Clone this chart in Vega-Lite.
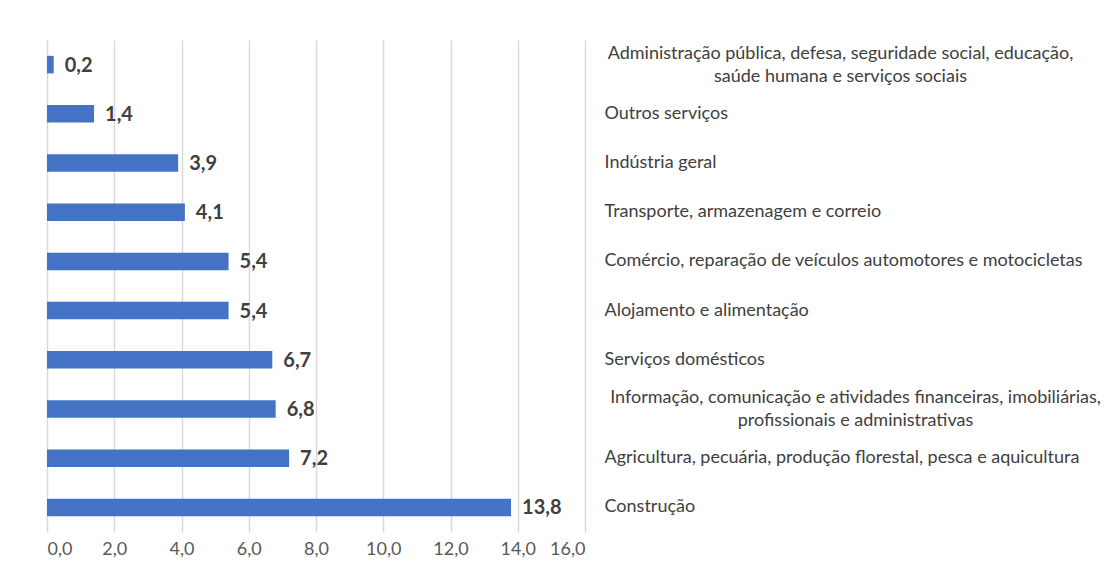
{
  "$schema": "https://vega.github.io/schema/vega-lite/v6.json",
  "width": 538,
  "height": 492,
  "autosize": "none",
  "padding": {"left": 47, "top": 40, "right": 519, "bottom": 42},
  "background": "white",
  "config": {
    "view": {"stroke": null},
    "font": "Lato",
    "locale": {"number": {"decimal": ",", "thousands": ".", "grouping": [3], "currency": ["R$", ""]}}
  },
  "data": {
    "values": [
      {"setor": "Administração pública, defesa, seguridade social, educação,\nsaúde humana e serviços sociais", "valor": 0.2},
      {"setor": "Outros serviços", "valor": 1.4},
      {"setor": "Indústria geral", "valor": 3.9},
      {"setor": "Transporte, armazenagem e correio", "valor": 4.1},
      {"setor": "Comércio, reparação de veículos automotores e motocicletas", "valor": 5.4},
      {"setor": "Alojamento e alimentação", "valor": 5.4},
      {"setor": "Serviços domésticos", "valor": 6.7},
      {"setor": "Informação, comunicação e atividades financeiras, imobiliárias,\nprofissionais e administrativas", "valor": 6.8},
      {"setor": "Agricultura, pecuária, produção florestal, pesca e aquicultura", "valor": 7.2},
      {"setor": "Construção", "valor": 13.8}
    ]
  },
  "encoding": {
    "y": {
      "field": "setor",
      "type": "nominal",
      "sort": null,
      "scale": {"paddingInner": 0.644, "paddingOuter": 0.322},
      "axis": {
        "orient": "right",
        "title": null,
        "domain": false,
        "ticks": false,
        "grid": false,
        "labelExpr": "split(datum.value, '\\n')",
        "labelFont": "Lato",
        "labelFontSize": 18,
        "labelColor": "#404040",
        "labelLineHeight": 23,
        "labelLimit": 700,
        "labelAlign": {"condition": {"test": "indexof(datum.value, '\\n') >= 0", "value": "center"}, "value": "left"},
        "labelOffset": {"condition": {"test": "indexof(datum.value, '\\n') >= 0", "value": -11}, "value": 0},
        "labelPadding": {"condition": [
          {"test": "indexof(datum.value, 'Administra') == 0", "value": 255},
          {"test": "indexof(datum.value, 'Informa') == 0", "value": 270}
        ], "value": 19}
      }
    },
    "x": {
      "field": "valor",
      "type": "quantitative",
      "scale": {"domain": [0, 16], "nice": false},
      "axis": {
        "title": null,
        "values": [0, 2, 4, 6, 8, 10, 12, 14, 16],
        "format": ".1f",
        "domain": false,
        "ticks": false,
        "grid": true,
        "gridColor": "#D9D9D9",
        "gridWidth": 1.5,
        "labelFont": "Lato",
        "labelFontSize": 18,
        "labelColor": "#595959",
        "labelPadding": 8
      }
    }
  },
  "layer": [
    {"mark": {"type": "bar", "color": "#4472C4"}},
    {
      "mark": {"type": "text", "align": "left", "baseline": "middle", "dx": 11, "dy": 1, "font": "Lato", "fontSize": 20, "fontWeight": "bold", "color": "#404040"},
      "encoding": {"text": {"field": "valor", "type": "quantitative", "format": ".1f"}}
    }
  ]
}
